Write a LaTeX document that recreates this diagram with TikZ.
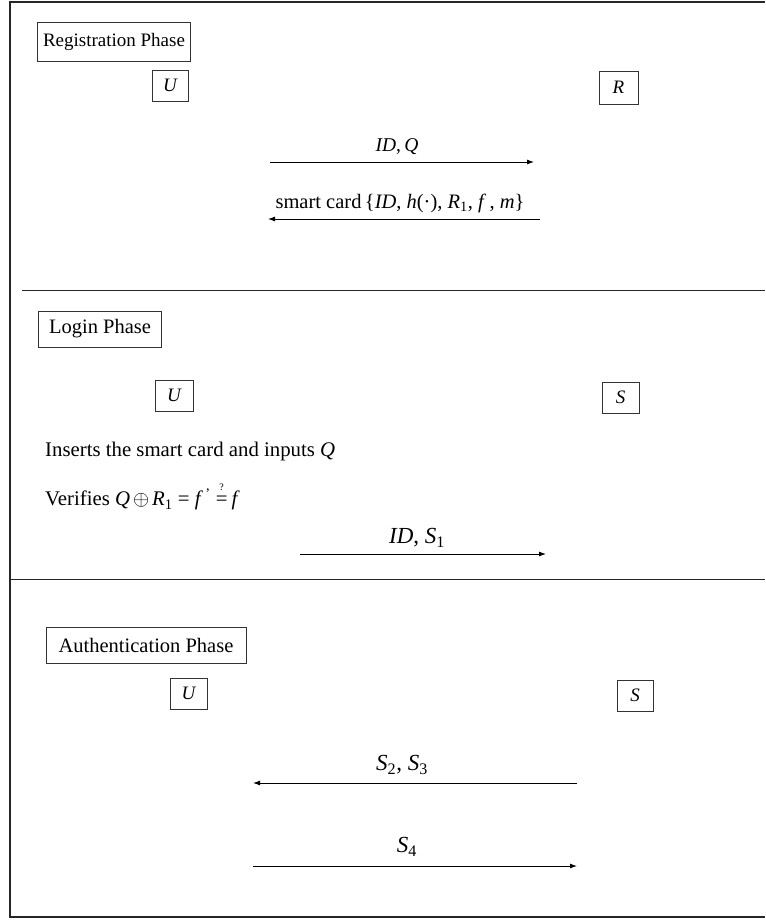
\documentclass[tikz,border=0pt]{standalone}
\usepackage{fontspec}
\setmainfont{Liberation Serif}
\usetikzlibrary{arrows.meta}
\newcommand{\ita}[1]{\textit{#1}}
\tikzset{
  frameline/.style={line width=1.3pt, draw=black!85},
  phasebox/.style={draw=black!80, line width=0.8pt, inner sep=0pt, font=\fontsize{19}{22}\selectfont},
  actor/.style={draw=black!80, line width=0.8pt, inner sep=0pt, font=\fontsize{19}{22}\selectfont\itshape},
  msg/.style={line width=0.9pt, -{Latex[length=7pt,width=5pt]}},
  lbl/.style={inner sep=0pt, font=\fontsize{19.5}{22}\selectfont},
  biglbl/.style={inner sep=0pt, font=\fontsize{23}{26}\selectfont},
  plain/.style={inner sep=0pt, anchor=west, font=\fontsize{20.8}{24}\selectfont}
}
\begin{document}
\begin{tikzpicture}[x=1pt,y=-1pt]
\useasboundingbox (0,0) rectangle (765,920);
% frame
\coordinate (tl) at (10,2);
\coordinate (tr) at (765,2);
\coordinate (bl) at (10,917);
\coordinate (br) at (765,917);
\draw[frameline] (tr) -- (tl) -- (bl) -- (br);
\coordinate (s1l) at (22,290);
\coordinate (s1r) at (765,290);
\coordinate (s2l) at (10,579);
\coordinate (s2r) at (765,579);
\draw[frameline, line width=1pt] (s1l) -- (s1r);
\draw[frameline, line width=1pt] (s2l) -- (s2r);

% Registration phase
\node[phasebox, minimum width=153.5pt, minimum height=39pt] (reg) at (114,41.5) {Registration Phase};
\node[actor, minimum width=36pt, minimum height=31pt] (u1) at (170,85.5) {U};
\node[actor, minimum width=39pt, minimum height=33pt] (r1) at (618.5,87.5) {R};
\coordinate (a1s) at (270,162);
\coordinate (a1e) at (534,162);
\draw[msg] (a1s) -- (a1e);
\node[lbl] (l1) at (397,147) {\ita{ID}{,}\,\ita{Q}};
\coordinate (a2s) at (540,219);
\coordinate (a2e) at (268,219);
\draw[msg] (a2s) -- (a2e);
\node[lbl, font=\fontsize{20.5}{24}\selectfont] (l2) at (400,203) {smart card\,\{\ita{ID}, \ita{h}(·), \ita{R}\textsubscript{1}, \ita{f}\,, \ita{m}\}};

% Login phase
\node[phasebox, font=\fontsize{20.5}{24}\selectfont, minimum width=123.5pt, minimum height=36pt] (login) at (100,329) {Login Phase};
\node[actor, minimum width=38pt, minimum height=31pt] (u2) at (174,395.5) {U};
\node[actor, minimum width=37pt, minimum height=31pt] (s2) at (620.5,397.5) {S};
\node[plain] (ins) at (45,451) {Inserts the smart card and inputs \ita{Q}};
\node[plain] (ver) at (45,497) {Verifies \ita{Q}\hspace{3pt}$\oplus$\hspace{3pt}\ita{R}\textsubscript{1} = \ita{f}\textsuperscript{\,'}\hspace{5pt}\shortstack{{\fontsize{10}{10}\selectfont ?}\\[3pt]=}\hspace{4pt}\ita{f}};
\node[biglbl] (l3) at (417,538) {\ita{ID}, \ita{S}\textsubscript{1}};
\coordinate (a3s) at (300,554);
\coordinate (a3e) at (546,554);
\draw[msg] (a3s) -- (a3e);

% Authentication phase
\node[phasebox, font=\fontsize{20.5}{24}\selectfont, minimum width=200pt, minimum height=36pt] (auth) at (146,645) {Authentication Phase};
\node[actor, minimum width=37pt, minimum height=31pt] (u3) at (188.5,693.5) {U};
\node[actor, minimum width=36pt, minimum height=31pt] (s3) at (635,695.5) {S};
\node[biglbl] (l4) at (402,765) {\ita{S}\textsubscript{2}, \ita{S}\textsubscript{3}};
\coordinate (a4s) at (577,783);
\coordinate (a4e) at (253,783);
\draw[msg] (a4s) -- (a4e);
\node[biglbl] (l5) at (407,847) {\ita{S}\textsubscript{4}};
\coordinate (a5s) at (253,866);
\coordinate (a5e) at (577,866);
\draw[msg] (a5s) -- (a5e);
\end{tikzpicture}
\end{document}
